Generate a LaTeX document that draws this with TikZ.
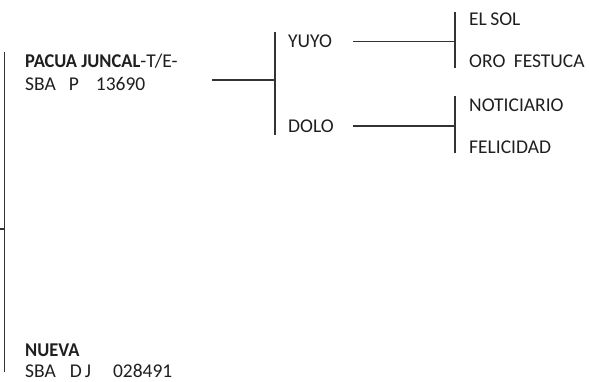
\documentclass[tikz,border=0pt]{standalone}
\usepackage{fontspec}
\setmainfont{Carlito}
\newcommand{\semib}[1]{\scalebox{0.945}[1]{\textbf{#1}}}
\begin{document}
\begin{tikzpicture}[x=1pt,y=-1pt,
  lbl/.style={anchor=base west,inner sep=0pt,font=\fontsize{19.5}{22}\selectfont,text=black!88},
  ln/.style={draw=black!80,line width=1.3pt}]
\useasboundingbox (0,0) rectangle (590,382);
% left bracket
\coordinate (L1) at (4.5,52);
\coordinate (L2) at (4.5,372);
\coordinate (Lm) at (4.5,229);
\coordinate (L0) at (0,229);
\draw[ln] (L1) -- (L2);
\draw[ln] (L0) -- (Lm);
% texts left
\node[lbl] (pacua) at (25,67.5) {\semib{PACUA JUNCAL}-T/E-};
\node[lbl] (pacuab) at (25,90.5) {SBA\hspace{13pt}P\hspace{17pt}13690};
\node[lbl] (nueva) at (25,357) {\semib{NUEVA}};
\node[lbl] (nuevab) at (25,378) {SBA\hspace{14pt}D\hspace{3pt}J\hspace{22pt}028491};
% first bracket
\coordinate (a0) at (212,80);
\coordinate (a1) at (275,80);
\coordinate (at) at (275,32);
\coordinate (ab) at (275,135);
\draw[ln] (a0) -- (a1);
\draw[ln] (at) -- (ab);
\node[lbl] (yuyo) at (288,48) {YUYO};
\node[lbl] (dolo) at (288,133) {DOLO};
% second level
\coordinate (y0) at (353,41.7);
\coordinate (y1) at (455,41.7);
\coordinate (yt) at (455,12);
\coordinate (yb) at (455,68);
\draw[ln] (y0) -- (y1);
\draw[ln] (yt) -- (yb);
\coordinate (d0) at (353,126);
\coordinate (d1) at (455,126);
\coordinate (dt) at (455,96);
\coordinate (db) at (455,153);
\draw[ln] (d0) -- (d1);
\draw[ln] (dt) -- (db);
\node[lbl] (elsol) at (469,26) {EL\hspace{-1pt} SOL};
\node[lbl] (oro) at (469,68) {ORO\hspace{4pt} FESTUCA};
\node[lbl] (noti) at (469,112) {NOTICIARIO};
\node[lbl] (feli) at (469,154) {FELICIDAD};
\end{tikzpicture}
\end{document}
